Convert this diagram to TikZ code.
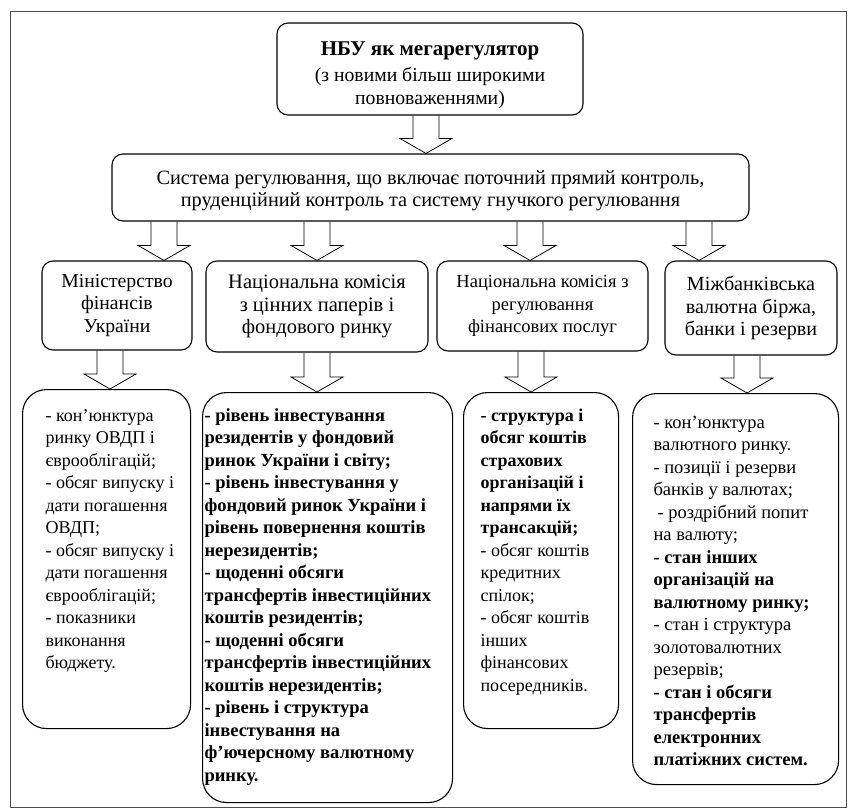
\documentclass[tikz,border=0pt]{standalone}
\usepackage{fontspec}
\setmainfont{Liberation Serif}
\usetikzlibrary{calc}

\begin{document}
\begin{tikzpicture}[x=1pt,y=-1pt,
  every node/.style={font=\fontsize{18.5}{22.5}\selectfont},
  headbox/.style={draw,line width=1.1pt,rounded corners=11pt,align=center,inner sep=0pt},
  listbox/.style={draw,line width=1.1pt,rounded corners=24pt,anchor=north west,inner xsep=0pt},
  blockarrow/.style={draw,line width=0.8pt,line join=miter,to path={let \p1=(\tikztostart),\p2=(\tikztotarget) in
    (\x1-13pt,\y1) -- (\x1-13pt,\y2+15pt) -- (\x1-26pt,\y2+15pt) -- (\x1,\y2)
    -- (\x1+26pt,\y2+15pt) -- (\x1+13pt,\y2+15pt) -- (\x1+13pt,\y1)}}]
\useasboundingbox (0,0) rectangle (854,808);
\draw[black!70,line width=0.8pt] (10,11) rectangle (846,807);

\node[headbox,minimum width=306pt,minimum height=92pt,font=\fontsize{19.7}{22.5}\selectfont] (nbu) at (430,69)
  {\rule{0pt}{26pt}{\fontsize{21}{22.5}\selectfont\bfseries НБУ як мегарегулятор}\\[3.5pt](з новими більш широкими\\повноваженнями)};
\node[headbox,minimum width=637pt,minimum height=67pt,font=\fontsize{20.3}{22}\selectfont] (sys) at (430.5,187.5)
  {\rule{0pt}{20pt}Система регулювання, що включає поточний прямий контроль,\\пруденційний контроль та систему гнучкого регулювання};

\node[headbox,minimum width=150pt,minimum height=89pt,font=\fontsize{19.7}{22.5}\selectfont] (minfin) at (117,305.5) {Міністерство\\фінансів\\України};
\node[headbox,minimum width=222pt,minimum height=91pt,font=\fontsize{20.5}{22.5}\selectfont] (nkcpfr) at (317,306.5) {Національна комісія\\з цінних паперів і\\фондового ринку};
\node[headbox,minimum width=211pt,minimum height=90pt] (nkfp) at (542.5,306) {Національна комісія з\\регулювання\\фінансових послуг};
\node[headbox,minimum width=172pt,minimum height=94pt,font=\fontsize{20.1}{22.5}\selectfont] (mvb) at (751,308) {Міжбанківська\\валютна біржа,\\банки і резерви};

% what each regulator watches
\node[listbox,inner ysep=16pt,font=\fontsize{18}{22.5}\selectfont] (minlist) at (22,389)
  {\parbox[t][307pt][t]{168pt}{\raggedright\leftskip=23pt\strut - кон’юнктура\\ринку ОВДП і\\єврооблігацій;\\- обсяг випуску і\\дати погашення\\ОВДП;\\- обсяг випуску і\\дати погашення\\єврооблігацій;\\- показники\\виконання\\бюджету.}};
\node[listbox,inner ysep=13pt] (cpfrlist) at (202,392)
  {\parbox[t][384pt][t]{250pt}{\raggedright\leftskip=2pt\bfseries\strut - рівень інвестування\\резидентів у фондовий\\ринок України і світу;\\- рівень інвестування у\\фондовий ринок України і\\рівень повернення коштів\\нерезидентів;\\- щоденні обсяги\\трансфертів інвестиційних\\коштів резидентів;\\- щоденні обсяги\\трансфертів інвестиційних\\коштів нерезидентів;\\- рівень і структура\\інвестування на\\ф’ючерсному валютному\\ринку.}};
\node[listbox,inner ysep=13pt,font=\fontsize{18}{22.5}\selectfont] (fplist) at (463,392)
  {\parbox[t][310pt][t]{155pt}{\raggedright\leftskip=17pt\strut\textbf{- структура і}\\\textbf{обсяг коштів}\\\textbf{страхових}\\\textbf{організацій і}\\\textbf{напрями їх}\\\textbf{трансакцій;}\\- обсяг коштів\\кредитних\\спілок;\\- обсяг коштів\\інших\\фінансових\\посередників.}};
\node[listbox,inner ysep=19pt] (mvblist) at (632,393)
  {\parbox[t][353pt][t]{206pt}{\raggedright\leftskip=21pt\strut - кон’юнктура\\валютного ринку.\\- позиції і резерви\\банків у валютах;\\\hspace*{4pt}- роздрібний попит\\на валюту;\\\textbf{- стан інших}\\\textbf{організацій на}\\\textbf{валютному ринку;}\\- стан і структура\\золотовалютних\\резервів;\\\textbf{- стан і обсяги}\\\textbf{трансфертів}\\\textbf{електронних}\\\textbf{платіжних систем.}}};

\draw[blockarrow] ([xshift=-4pt]nbu.south) to (sys.north);
\draw[blockarrow] ([xshift=-266.5pt]sys.south) to (minfin.north);
\draw[blockarrow] ([xshift=-113.5pt]sys.south) to (nkcpfr.north);
\draw[blockarrow] ([xshift=99.5pt]sys.south) to (nkfp.north);
\draw[blockarrow] ([xshift=268.5pt]sys.south) to (mvb.north);

\draw[blockarrow] ([xshift=-7pt]minfin.south) to (minlist.north);
\draw[blockarrow] (nkcpfr.south) to (cpfrlist.north);
\draw[blockarrow] ([xshift=-11.5pt]nkfp.south) to (fplist.north);
\draw[blockarrow] ([xshift=-4pt]mvb.south) to (mvblist.north);
\end{tikzpicture}
\end{document}
